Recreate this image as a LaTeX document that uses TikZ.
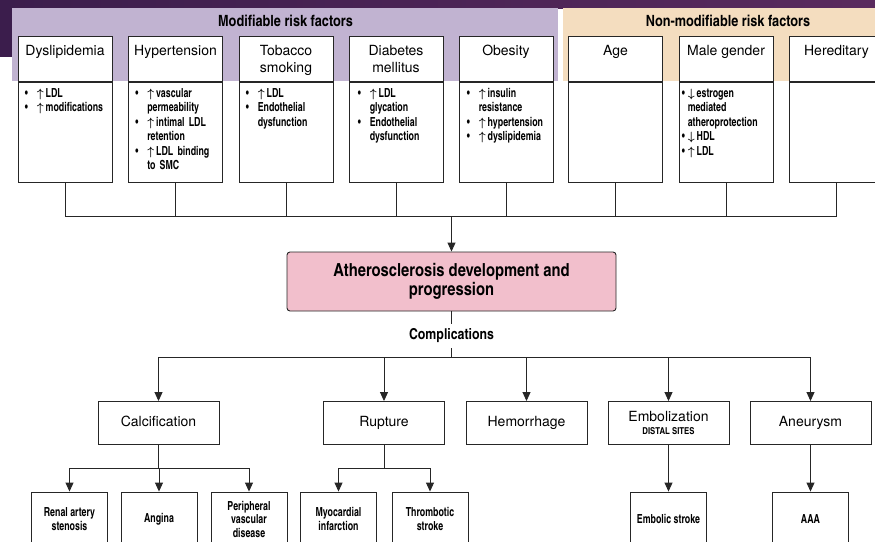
\documentclass[tikz,border=0pt]{standalone}
\usepackage{fontspec}
\setmainfont{TeX Gyre Heros}
\newfontfamily\cnb[FakeStretch=0.86]{texgyreheroscn-bold.otf}
\newfontfamily\cnB{texgyreheroscn-bold.otf}
\usetikzlibrary{arrows.meta,positioning}

\definecolor{slide}{HTML}{3B1D4C}
\definecolor{slideR}{HTML}{5A2A5E}
\definecolor{lav}{HTML}{C1B3D1}
\definecolor{tan}{HTML}{F4DDBF}
\definecolor{athpink}{HTML}{F2BFCC}

% bullet item with hanging indent
\newcommand\itm[2][12pt]{\par\hangindent=#1\hangafter=1\noindent\makebox[#1][l]{\textbullet}#2}
\newcommand\up{{\boldmath$\uparrow$}\,}
\newcommand\dn{{\boldmath$\downarrow$}\,}

\tikzset{
  box/.style={draw=black!85, line width=0.9pt, fill=white, inner sep=0pt},
  head/.style={box, anchor=north, minimum width=94pt, minimum height=45pt},
  body/.style={box, minimum width=94pt, minimum height=100pt},
  ttl/.style={anchor=north, inner sep=0pt, align=center, font=\fontsize{14}{17}\selectfont},
  bul/.style={anchor=north west, inner sep=0pt, text width=88pt, align=left,
    font=\cnb\fontsize{12.5}{14.4}\selectfont},
  band/.style={font=\cnB\fontsize{15.5}{17}\selectfont},
  link/.style={line width=0.9pt, draw=black!85},
  arr/.style={link, -{Triangle[length=9pt,width=8pt]}},
  cbox/.style={box, minimum width=121pt, minimum height=43pt, align=center,
    font=\fontsize{14}{16}\selectfont},
  cone/.style={cbox, text height=10pt, text depth=3pt},
  leaf/.style={box, minimum width=76pt, minimum height=54pt, align=center,
    font=\cnb\fontsize{12.5}{13.5}\selectfont},
}

\begin{document}
\begin{tikzpicture}[x=1pt,y=-1pt]
  \useasboundingbox (0,0) rectangle (875,541);
  \clip (0,0) rectangle (875,541);

  % slide background
  \shade[left color=slide, right color=slideR] (0,0) rectangle (875,8);
  \fill[slide] (0,0) rectangle (12,57);
  \fill[lav] (12,8) rectangle (558,81);
  \fill[tan] (563,8) rectangle (875,81);
  \node[band] (modT) at (285.5,21) {Modifiable risk factors};
  \node[band] (nonT) at (728,21) {Non-modifiable risk factors};

  % risk factor boxes
  \foreach \n/\x in {dys/65,hyp/175.5,tob/286,dia/396,obe/506,age/615.5,mal/726,her/836.5}{
    \node[head] (\n) at (\x,36) {};
    \node[body, below=0pt of \n] (\n b) {};
  }
  \node[ttl] (dysT) at ([yshift=-9pt]dys.north) {Dyslipidemia};
  \node[ttl] (hypT) at ([yshift=-9pt]hyp.north) {Hypertension};
  \node[ttl] (tobT) at ([yshift=-9pt]tob.north) {Tobacco\\smoking};
  \node[ttl] (diaT) at ([yshift=-9pt]dia.north) {Diabetes\\mellitus};
  \node[ttl] (obeT) at ([yshift=-9pt]obe.north) {Obesity};
  \node[ttl] (ageT) at ([yshift=-9pt]age.north) {Age};
  \node[ttl] (malT) at ([yshift=-9pt]mal.north) {Male gender};
  \node[ttl] (herT) at ([yshift=-9pt]her.north) {Hereditary};

  \node[bul] (dysL) at ([xshift=7pt,yshift=-1pt]dysb.north west)
    {\itm{\up LDL}\itm{\up modifications}\par};
  \node[bul] (hypL) at ([xshift=7pt,yshift=-1pt]hypb.north west)
    {\itm{\up vascular\newline permeability}\itm{\up intimal LDL\newline retention}\itm{\up LDL binding\newline to SMC}\par};
  \node[bul] (tobL) at ([xshift=7pt,yshift=-1pt]tobb.north west)
    {\itm{\up LDL}\itm{Endothelial\newline dysfunction}\par};
  \node[bul] (diaL) at ([xshift=9pt,yshift=-1pt]diab.north west)
    {\itm{\up LDL\newline glycation}\itm{Endothelial\newline dysfunction}\par};
  \node[bul] (obeL) at ([xshift=8pt,yshift=-1pt]obeb.north west)
    {\itm{\up insulin\newline resistance}\itm{\up hypertension}\itm{\up dyslipidemia}\par};
  \node[bul] (malL) at ([xshift=3pt,yshift=-1pt]malb.north west)
    {\itm[6pt]{\dn estrogen\newline mediated\newline atheroprotection}\itm[6pt]{\dn HDL}\itm[6pt]{\up LDL}\par};

  % collecting bus
  \coordinate (bus) at (451.5,216);
  \foreach \n in {dys,hyp,tob,dia,obe,age,mal,her}
    \draw[link] (\n b.south) -- (\n b.south |- bus);
  \draw[link] (dysb.south |- bus) -- (herb.south |- bus);

  \node[box, fill=athpink, rounded corners=3pt, minimum width=329pt, minimum height=59pt,
    align=center, font=\cnB\fontsize{18}{19}\selectfont] (ath) at (451.5,281.5)
    {Atherosclerosis development and\\progression};
  \draw[arr] (bus) -- (ath);

  \node[font=\cnB\fontsize{15}{16}\selectfont, inner sep=5pt] (cmp) at (451.5,336) {Complications};
  \draw[link] (ath) -- (cmp);

  % complications
  \node[cone] (cal) at (158.5,423) {Calcification};
  \node[cone] (rup) at (384,423) {Rupture};
  \node[cone] (hem) at (526.5,423) {Hemorrhage};
  \node[cbox] (emb) at (668.5,423) {Embolization\\[-3pt]{\cnB\fontsize{9.5}{10}\selectfont DISTAL SITES}};
  \node[cone] (ane) at (810.5,423) {Aneurysm};

  \coordinate (cbus) at (451.5,357);
  \draw[link] (cmp) -- (cbus);
  \draw[link] (cal.north |- cbus) -- (ane.north |- cbus);
  \foreach \n in {cal,rup,hem,emb,ane}
    \draw[arr] (\n.north |- cbus) -- (\n.north);

  % end points
  \node[leaf] (ren) at (69.5,519) {Renal artery\\stenosis};
  \node[leaf] (ang) at (159,519) {Angina};
  \node[leaf] (per) at (249,519) {Peripheral\\vascular\\disease};
  \node[leaf] (myo) at (338.5,519) {Myocardial\\infarction};
  \node[leaf] (thr) at (430,519) {Thrombotic\\stroke};
  \node[leaf] (ems) at (668.5,519) {Embolic stroke};
  \node[leaf] (aaa) at (810.5,519) {AAA};

  \coordinate (cj) at (158.5,468);
  \draw[link] (cal) -- (cj);
  \draw[link] (ren.north |- cj) -- (per.north |- cj);
  \foreach \n in {ren,ang,per}
    \draw[arr] (\n.north |- cj) -- (\n.north);

  \coordinate (rj) at (384,468);
  \draw[link] (rup) -- (rj);
  \draw[link] (myo.north |- rj) -- (thr.north |- rj);
  \foreach \n in {myo,thr}
    \draw[arr] (\n.north |- rj) -- (\n.north);

  \draw[arr] (emb) -- (ems);
  \draw[arr] (ane) -- (aaa);
\end{tikzpicture}
\end{document}
